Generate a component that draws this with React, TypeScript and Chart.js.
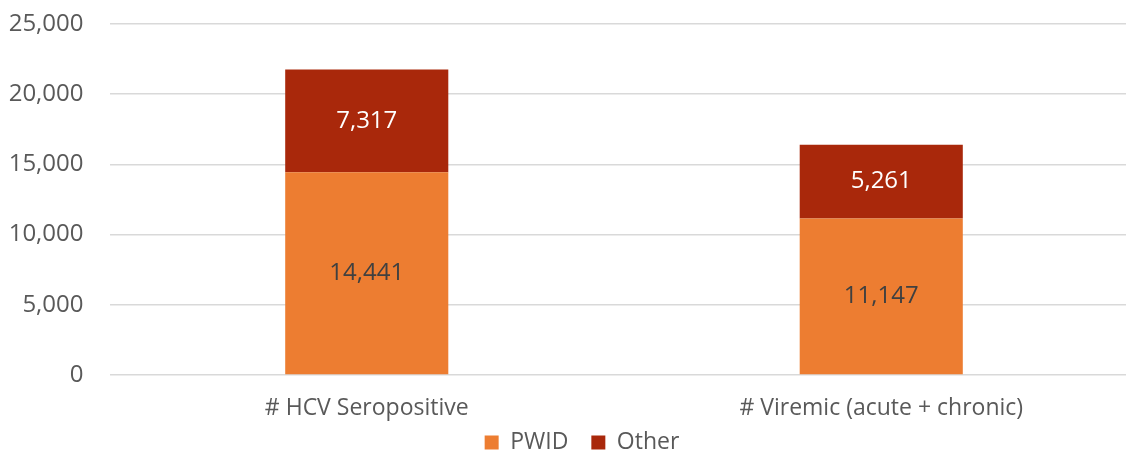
import React, { useEffect, useRef } from "react";
import { Chart, registerables } from "chart.js";

Chart.register(...registerables);

const categories = ["# HCV Seropositive", "# Viremic (acute + chronic)"];
const pwidValues = [14441, 11147];
const otherValues = [7317, 5261];
const yTicks = [0, 5000, 10000, 15000, 20000, 25000];

const ORANGE = "#ED7D31";
const RED = "#A9280B";
const FONT = "'Open Sans', sans-serif";

const CANVAS_W = 1164;
const CANVAS_H = 464;

const dataLabelPlugin = {
  id: "dataLabels",
  afterDatasetsDraw(chart: any) {
    const ctx = chart.ctx;
    ctx.save();
    ctx.font = `24px ${FONT}`;
    ctx.textAlign = "center";
    ctx.textBaseline = "middle";
    chart.data.datasets.forEach((ds: any, di: number) => {
      const meta = chart.getDatasetMeta(di);
      meta.data.forEach((bar: any, i: number) => {
        const v = ds.data[i];
        const cy = (bar.y + bar.base) / 2;
        ctx.fillStyle = di === 0 ? "#404040" : "#FFFFFF";
        ctx.fillText(Number(v).toLocaleString("en-US"), bar.x, cy);
      });
    });
    ctx.restore();
  },
};

const unclipXLabels = {
  id: "unclipXLabels",
  afterLayout(chart: any) {
    const x = chart.scales.x;
    if (x) x.bottom = chart.height;
  },
};

export default function App() {
  const ref = useRef<HTMLCanvasElement | null>(null);
  useEffect(() => {
    if (!ref.current) return;
    const chart = new Chart(ref.current, {
      type: "bar",
      data: {
        labels: categories,
        datasets: [
          {
            label: "PWID",
            data: pwidValues,
            backgroundColor: ORANGE,
            borderWidth: 0,
            categoryPercentage: 0.317,
            barPercentage: 1,
          },
          {
            label: "Other",
            data: otherValues,
            backgroundColor: RED,
            borderWidth: 0,
            categoryPercentage: 0.317,
            barPercentage: 1,
          },
        ],
      },
      options: {
        responsive: false,
        animation: false,
        devicePixelRatio: 1,
        layout: { padding: { top: 24, left: 0, right: 0, bottom: 0 } },
        plugins: {
          legend: {
            position: "bottom",
            labels: {
              boxWidth: 14,
              boxHeight: 14,
              padding: 23,
              color: "#595959",
              font: { family: FONT, size: 23 },
            },
          },
          tooltip: { enabled: false },
        },
        scales: {
          x: {
            stacked: true,
            grid: { display: false, drawTicks: false },
            border: { display: false },
            ticks: {
              color: "#595959",
              font: { family: FONT, size: 23 },
              padding: 20,
              maxRotation: 0,
            },
            afterFit(scale: any) {
              scale.height = 33;
            },
          },
          y: {
            stacked: true,
            min: 0,
            max: 25000,
            afterBuildTicks(scale: any) {
              scale.ticks = yTicks.map((v) => ({ value: v }));
            },
            grid: { color: "#D9D9D9", lineWidth: 1.5, drawTicks: false },
            border: { display: false },
            ticks: {
              color: "#595959",
              font: { family: FONT, size: 24 },
              padding: 26,
              callback: (v: any) => Number(v).toLocaleString("en-US"),
            },
            afterFit(scale: any) {
              scale.width = 109.5;
              scale.paddingTop = 0;
              scale.paddingBottom = 0;
            },
          },
          y2: {
            position: "right",
            display: true,
            grid: { display: false, drawTicks: false },
            border: { display: false },
            ticks: { display: false },
            afterFit(scale: any) {
              scale.width = CANVAS_W - 1138.5;
              scale.paddingTop = 0;
              scale.paddingBottom = 0;
            },
          },
        },
      },
      plugins: [dataLabelPlugin, unclipXLabels],
    } as any);
    return () => chart.destroy();
  }, []);

  return (
    <div
      style={{
        position: "absolute",
        left: 0,
        top: 0,
        width: 1126,
        height: 453,
        overflow: "hidden",
        background: "#fff",
      }}
    >
      <canvas
        ref={ref}
        width={CANVAS_W}
        height={CANVAS_H}
        style={{ display: "block", width: CANVAS_W, height: CANVAS_H }}
      />
    </div>
  );
}
